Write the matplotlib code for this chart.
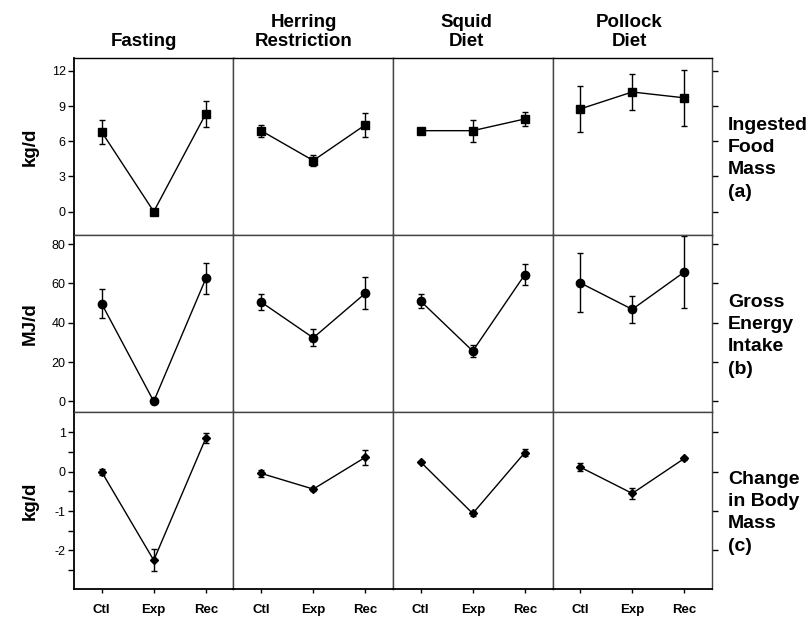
import numpy as np
import matplotlib.pyplot as plt

plt.rcParams['font.family'] = ['Liberation Sans', 'DejaVu Sans']
plt.rcParams['axes.unicode_minus'] = False

phases = ["Ctl", "Exp", "Rec"]
treatments = ["Fasting", "Herring\nRestriction", "Squid\nDiet", "Pollock\nDiet"]
row_labels = ["Ingested\nFood\nMass\n(a)", "Gross\nEnergy\nIntake\n(b)", "Change\nin Body\nMass\n(c)"]
y_units = ["kg/d", "MJ/d", "kg/d"]

# (a) ingested food mass, kg/d
food_mean = [[6.8, 0.0, 8.35], [6.9, 4.35, 7.4], [6.9, 6.9, 7.9], [8.75, 10.2, 9.7]]
food_err = [[1.0, 0.0, 1.1], [0.5, 0.5, 1.05], [0.1, 0.95, 0.6], [2.0, 1.5, 2.4]]
# (b) gross energy intake, MJ/d
energy_mean = [[49.7, 0.0, 62.5], [50.5, 32.3, 55.0], [51.0, 25.6, 64.5], [60.3, 46.8, 65.8]]
energy_err = [[7.3, 0.0, 8.0], [4.2, 4.3, 8.0], [3.7, 3.0, 5.4], [15.0, 7.0, 18.2]]
# (c) change in body mass, kg/d
mass_mean = [[0.0, -2.25, 0.86], [-0.04, -0.44, 0.37], [0.25, -1.06, 0.49], [0.12, -0.55, 0.34]]
mass_err = [[0.08, 0.28, 0.12], [0.08, 0.04, 0.19], [0.03, 0.06, 0.08], [0.11, 0.13, 0.04]]

rows = [
    (food_mean, food_err, "s", 6.0, (-2.0, 13.1), [0, 3, 6, 9, 12], []),
    (energy_mean, energy_err, "o", 6.0, (-5.4, 84.6), [0, 20, 40, 60, 80], []),
    (mass_mean, mass_err, "D", 4.5, (-2.98, 1.52), [-2, -1, 0, 1], [-2.5, -1.5, -0.5, 0.5]),
]
title_x = [0.44, 0.44, 0.46, 0.48]

fig, axes = plt.subplots(3, 4, figsize=(8.1, 6.18), dpi=100, sharex=True)
fig.subplots_adjust(left=74/810, right=712/810, top=1-58/618, bottom=1-589/618,
                    wspace=0, hspace=0)

x = np.arange(len(phases))
for r, (means, errs, marker, ms, ylim, yticks, yminor) in enumerate(rows):
    for c in range(4):
        ax = axes[r, c]
        ax.errorbar(x, means[c], yerr=errs[c], color="black", marker=marker,
                    markersize=ms, linewidth=1.0, elinewidth=1.0, capsize=2.2,
                    capthick=1.0)
        ax.set_xlim(-0.53, 2.53)
        ax.set_ylim(*ylim)
        ax.set_yticks(yticks)
        ax.set_yticks(yminor, minor=True)
        for s in ax.spines.values():
            s.set_linewidth(1.0)
            s.set_color("#444444")
        ax.tick_params(axis="y", which="both", direction="out", length=4,
                       width=1, left=(c == 0), labelleft=(c == 0),
                       right=(c == 3), labelright=False, labelsize=9, pad=2)
        ax.tick_params(axis="y", which="minor", right=False)
        ax.tick_params(axis="x", direction="out", length=3, width=1,
                       bottom=(r == 2), labelbottom=(r == 2), pad=8)
        if c == 0:
            ax.spines["left"].set_color("black")
            ax.spines["left"].set_linewidth(1.3)
            ax.set_ylabel(y_units[r], fontsize=13.5, fontweight="bold", labelpad=9)
        if r == 2:
            ax.spines["bottom"].set_color("black")
            ax.spines["bottom"].set_linewidth(1.3)
            ax.set_xticks(x)
            ax.set_xticklabels(phases, fontsize=9.5, fontweight="bold")
        if r == 0:
            ax.spines["top"].set_color("black")
            ax.set_title(treatments[c], fontsize=13.5, fontweight="bold",
                         x=title_x[c], pad=9, linespacing=1.1)
    axes[r, 3].text(1.10, 0.43, row_labels[r], transform=axes[r, 3].transAxes,
                    fontsize=14, fontweight="bold", va="center", ha="left",
                    multialignment="left", linespacing=1.4)

fig.align_ylabels(axes[:, 0])
fig.savefig("out.png", dpi=100)
